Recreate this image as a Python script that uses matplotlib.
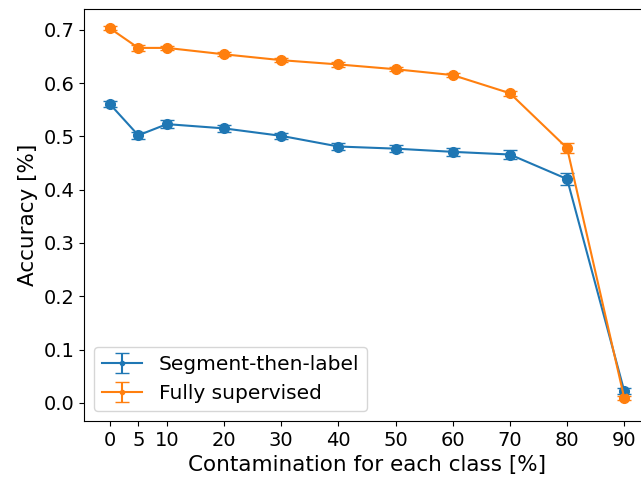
import matplotlib
matplotlib.use("Agg")
import matplotlib.pyplot as plt

contamination = [0, 5, 10, 20, 30, 40, 50, 60, 70, 80, 90]
seg_acc = [0.561, 0.502, 0.523, 0.515, 0.501, 0.481, 0.477, 0.471, 0.466, 0.420, 0.022]
seg_err = [0.006, 0.006, 0.007, 0.007, 0.006, 0.006, 0.006, 0.007, 0.009, 0.011, 0.006]
sup_acc = [0.703, 0.666, 0.666, 0.654, 0.643, 0.635, 0.626, 0.615, 0.581, 0.478, 0.009]
sup_err = [0.004, 0.005, 0.004, 0.004, 0.004, 0.004, 0.004, 0.004, 0.005, 0.010, 0.004]
labels = ["Segment-then-label", "Fully supervised"]
colors = ["#1f77b4", "#ff7f0e"]

fig = plt.figure(figsize=(6.41, 4.78), dpi=100)
ax = fig.add_axes([84/641, 57/478, (650-84)/641, (421-9)/478])

for acc, err, lab, c in [(seg_acc, seg_err, labels[0], colors[0]),
                         (sup_acc, sup_err, labels[1], colors[1])]:
    ax.errorbar(contamination, acc, yerr=err, fmt='.-', color=c, capsize=5,
                label=lab, linewidth=1.5)
    ax.plot(contamination, acc, 'o', color=c, markersize=7)

ax.set_xticks(contamination)
ax.set_xlim(-4.5, 94.5)
ax.set_ylim(-0.034, 0.739)
ax.set_yticks([0.0, 0.1, 0.2, 0.3, 0.4, 0.5, 0.6, 0.7])
ax.tick_params(labelsize=14)
ax.set_xlabel("Contamination for each class [%]", fontsize=15.5)
ax.set_ylabel("Accuracy [%]", fontsize=15.5)
ax.legend(loc="lower left", fontsize=14.5)

fig.savefig("out.png", dpi=100)
